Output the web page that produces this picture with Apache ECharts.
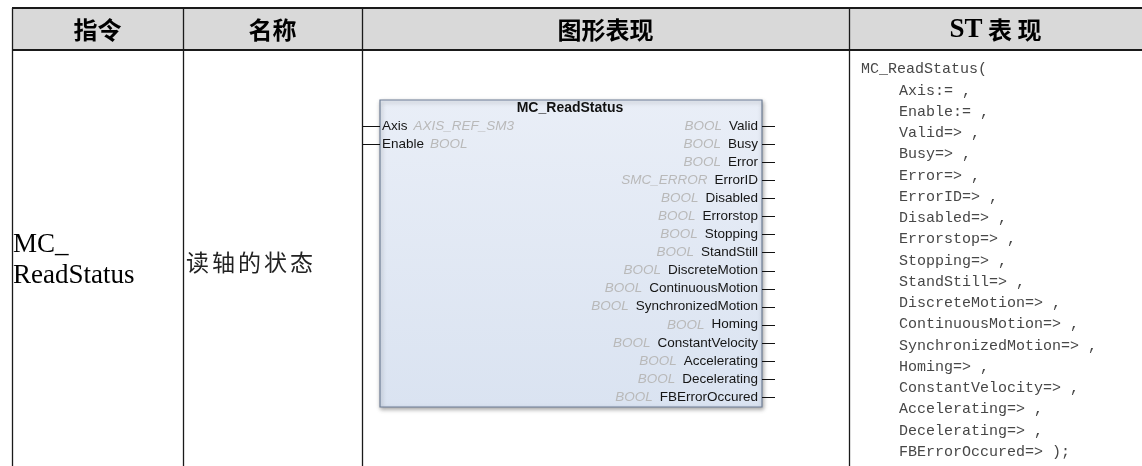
<!DOCTYPE html>
<html><head><meta charset="utf-8">
<script src="https://cdn.jsdelivr.net/npm/echarts@6/dist/echarts.min.js"></script>
<style>html,body{margin:0;padding:0;background:#fff}#c{width:1142px;height:466px}</style>
</head><body><div id="c"></div>
<script>
// ---- data ----
const headers = ['指令', '名称', '图形表现', 'ST 表 现'];
const instructionLines = ['MC_', 'ReadStatus'];
const nameCN = '读轴的状态';
const fbTitle = 'MC_ReadStatus';
const inputNames = ['Axis', 'Enable'];
const inputTypes = ['AXIS_REF_SM3', 'BOOL'];
const outputNames = ['Valid', 'Busy', 'Error', 'ErrorID', 'Disabled', 'Errorstop', 'Stopping', 'StandStill',
  'DiscreteMotion', 'ContinuousMotion', 'SynchronizedMotion', 'Homing', 'ConstantVelocity',
  'Accelerating', 'Decelerating', 'FBErrorOccured'];
const outputTypes = ['BOOL', 'BOOL', 'BOOL', 'SMC_ERROR', 'BOOL', 'BOOL', 'BOOL', 'BOOL',
  'BOOL', 'BOOL', 'BOOL', 'BOOL', 'BOOL', 'BOOL', 'BOOL', 'BOOL'];
const stLines = ['MC_ReadStatus(', 'Axis:= ,', 'Enable:= ,', 'Valid=> ,', 'Busy=> ,', 'Error=> ,', 'ErrorID=> ,',
  'Disabled=> ,', 'Errorstop=> ,', 'Stopping=> ,', 'StandStill=> ,', 'DiscreteMotion=> ,',
  'ContinuousMotion=> ,', 'SynchronizedMotion=> ,', 'Homing=> ,', 'ConstantVelocity=> ,',
  'Accelerating=> ,', 'Decelerating=> ,', 'FBErrorOccured=> );'];

// ---- layout ----
const W = 1142, H = 466;
const colX = [12, 183, 362, 849, 1142];
const headTop = 8, headBot = 50;
const box = {x: 380, y: 100, w: 382, h: 307};
const rowStep = 18.07;
const fbFirstRow = 126;
const stFirst = 69.5, stStep = 21.25;

const chart = echarts.init(document.getElementById('c'), null, {renderer: 'canvas'});

const LINE = '#1a1a1a';
const graphics = [];
graphics.push({type: 'rect', shape: {x: colX[0], y: headTop, width: W - colX[0], height: headBot - headTop},
  style: {fill: '#d9d9d9'}, z: 0});
graphics.push({type: 'line', shape: {x1: colX[0], y1: headTop, x2: W, y2: headTop}, style: {stroke: LINE, lineWidth: 2}, z: 5});
graphics.push({type: 'line', shape: {x1: colX[0], y1: headBot, x2: W, y2: headBot}, style: {stroke: LINE, lineWidth: 2}, z: 5});
[colX[0], colX[1], colX[2], colX[3]].forEach(function (x) {
  graphics.push({type: 'line', shape: {x1: x + 0.5, y1: headTop, x2: x + 0.5, y2: H}, style: {stroke: LINE, lineWidth: 1.3}, z: 5});
});
headers.forEach(function (h, i) {
  const cx = (colX[i] + colX[i + 1]) / 2;
  let text = h, rich = undefined;
  if (h.indexOf('ST') === 0) {
    text = '{s|ST} {c|' + h.slice(3) + '}';
    rich = {
      s: {fontFamily: 'Liberation Serif', fontWeight: 'bold', fontSize: 27, fill: '#000'},
      c: {fontFamily: 'Noto Sans CJK SC', fontWeight: 'bold', fontSize: 24, fill: '#000'}
    };
  }
  graphics.push({type: 'text', x: cx, y: (headTop + headBot) / 2 + 1, z: 6,
    style: {text: text, rich: rich, align: 'center', verticalAlign: 'middle',
      fontFamily: 'Noto Sans CJK SC', fontWeight: 'bold', fontSize: 24, fill: '#000'}});
});
instructionLines.forEach(function (t, i) {
  graphics.push({type: 'text', x: 13, y: 245 + i * 31, z: 6,
    style: {text: t, align: 'left', verticalAlign: 'middle', fontFamily: 'Liberation Serif', fontSize: 27, fill: '#000'}});
});
Array.from(nameCN).forEach(function (ch, i) {
  graphics.push({type: 'text', x: 186 + i * 26, y: 262, z: 6,
    style: {text: ch, align: 'left', verticalAlign: 'middle', fontFamily: 'Noto Sans CJK SC', fontSize: 23, fill: '#222'}});
});
graphics.push({type: 'rect', shape: {x: box.x, y: box.y, width: box.w, height: box.h}, z: 2,
  style: {fill: new echarts.graphic.LinearGradient(0, 0, 0, 1, [{offset: 0, color: '#e9eef7'}, {offset: 1, color: '#dae3f1'}]),
    stroke: '#6f7f97', lineWidth: 1.2, shadowBlur: 4, shadowOffsetX: 1, shadowOffsetY: 2, shadowColor: 'rgba(0,0,0,0.35)'}});
graphics.push({type: 'text', x: box.x + box.w / 2 - 1, y: 108, z: 6,
  style: {text: fbTitle, align: 'center', verticalAlign: 'middle', fontFamily: 'Liberation Sans', fontWeight: 'bold', fontSize: 14, fill: '#111'}});

const fbFont = 'Liberation Sans';
const fbSize = 13.5;
const option = {
  animation: false,
  backgroundColor: '#fff',
  grid: [
    {left: box.x, width: box.w, top: fbFirstRow - rowStep / 2, height: rowStep * outputNames.length},
    {left: box.x, width: box.w, top: fbFirstRow - rowStep / 2, height: rowStep * inputNames.length},
    {left: colX[3], right: 0, top: stFirst - stStep / 2, height: stStep * stLines.length}
  ],
  xAxis: [0, 1, 2].map(function (g) { return {gridIndex: g, type: 'value', min: 0, max: 1, show: false}; }),
  yAxis: [
    {gridIndex: 0, type: 'category', data: outputNames, inverse: true, show: false},
    {gridIndex: 1, type: 'category', data: inputNames, inverse: true, show: false},
    {gridIndex: 2, type: 'category', data: stLines.map(function (s, i) { return i; }), inverse: true, show: false}
  ],
  series: [
    {
      type: 'custom', xAxisIndex: 0, yAxisIndex: 0, z: 10,
      data: outputNames.map(function (n, i) { return [1, i]; }),
      renderItem: function (params, api) {
        const i = params.dataIndex;
        const p = api.coord([1, api.value(1)]);
        return {type: 'group', children: [
          {type: 'line', shape: {x1: p[0], y1: Math.round(p[1]) + 0.5, x2: p[0] + 13, y2: Math.round(p[1]) + 0.5}, style: {stroke: '#111', lineWidth: 1}},
          {type: 'text', x: p[0] - 4, y: p[1], style: {
            text: '{t|' + outputTypes[i] + '}{n|' + outputNames[i] + '}', align: 'right', verticalAlign: 'middle',
            rich: {t: {fontFamily: fbFont, fontStyle: 'italic', fontSize: fbSize, fill: '#b9b9b9', padding: [0, 7, 0, 0]},
                   n: {fontFamily: fbFont, fontSize: fbSize, fill: '#151515'}}}}
        ]};
      }
    },
    {
      type: 'custom', xAxisIndex: 1, yAxisIndex: 1, z: 10,
      data: inputNames.map(function (n, i) { return [0, i]; }),
      renderItem: function (params, api) {
        const i = params.dataIndex;
        const p = api.coord([0, api.value(1)]);
        return {type: 'group', children: [
          {type: 'line', shape: {x1: colX[2] + 1, y1: Math.round(p[1]) + 0.5, x2: p[0], y2: Math.round(p[1]) + 0.5}, style: {stroke: '#111', lineWidth: 1}},
          {type: 'text', x: p[0] + 2, y: p[1], style: {
            text: '{n|' + inputNames[i] + '}{t|' + inputTypes[i] + '}', align: 'left', verticalAlign: 'middle',
            rich: {t: {fontFamily: fbFont, fontStyle: 'italic', fontSize: fbSize, fill: '#b9b9b9'},
                   n: {fontFamily: fbFont, fontSize: fbSize, fill: '#151515', padding: [0, 6, 0, 0]}}}}
        ]};
      }
    },
    {
      type: 'custom', xAxisIndex: 2, yAxisIndex: 2, z: 10,
      data: stLines.map(function (s, i) { return [0, i]; }),
      renderItem: function (params, api) {
        const i = params.dataIndex;
        const p = api.coord([0, api.value(1)]);
        return {type: 'text', x: p[0] + (i === 0 ? 12 : 50), y: p[1], style: {
          text: stLines[i], align: 'left', verticalAlign: 'middle',
          fontFamily: 'Liberation Mono', fontSize: 15, fill: '#474747'}};
      }
    }
  ],
  graphic: graphics
};
chart.setOption(option);
</script></body></html>
